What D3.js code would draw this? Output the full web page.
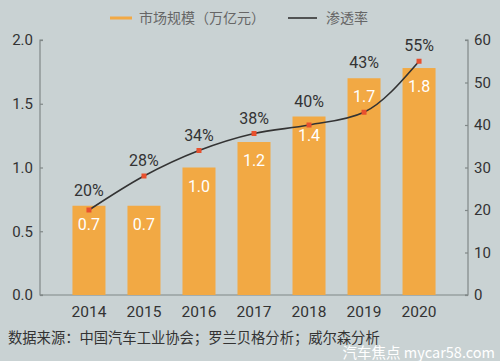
<!DOCTYPE html>
<html>
<head>
<meta charset="utf-8">
<script src="https://cdn.jsdelivr.net/npm/d3@7"></script>
<style>
  body { margin: 0; background: #c9d2d3; }
  svg { display: block; font-family: "Noto Sans CJK SC", "Noto Sans", sans-serif; }
</style>
</head>
<body>
<div id="vis"></div>
<script>
  // chart data
  const years = ["2014", "2015", "2016", "2017", "2018", "2019", "2020"]
  const marketSize = [0.7, 0.7, 1.0, 1.2, 1.4, 1.7, 1.78]
  const marketLabels = ["0.7", "0.7", "1.0", "1.2", "1.4", "1.7", "1.8"]
  const penetration = [20, 28, 34, 38, 40, 43, 55]
  const leftTicks = [0, 0.5, 1.0, 1.5, 2.0]
  const rightTicks = [0, 10, 20, 30, 40, 50, 60]

  const width = 500, height = 361
  const margin = { left: 40, right: 32, top: 40, bottom: 66 }
  const x0 = margin.left, x1 = width - margin.right
  const yTop = margin.top, yBottom = height - margin.bottom

  const svg = d3.select("#vis").append("svg")
    .attr("width", width)
    .attr("height", height)

  svg.append("rect")
    .attr("width", width).attr("height", height)
    .attr("fill", "#c9d2d3")

  const x = d3.scaleBand()
    .domain(years)
    .range([x0, x1])
    .paddingInner(0.4)
    .paddingOuter(0.59)

  const yLeft = d3.scaleLinear().domain([0, 2]).range([yBottom, yTop])
  const yRight = d3.scaleLinear().domain([0, 60]).range([yBottom, yTop])

  // axes
  const leftAxis = d3.axisRight(yLeft).tickValues(leftTicks).tickSize(3).tickFormat(d3.format(".1f"))
  const gl = svg.append("g").attr("transform", `translate(${x0},0)`).call(leftAxis)
  gl.select(".domain").attr("d", `M3,${yTop}H0V${yBottom}H3`)
  gl.selectAll("text").attr("x", -7).attr("text-anchor", "end")

  const rightAxis = d3.axisLeft(yRight).tickValues(rightTicks).tickSize(3)
  const gr = svg.append("g").attr("transform", `translate(${x1},0)`).call(rightAxis)
  gr.select(".domain").attr("d", `M-3,${yTop}H0V${yBottom}H-3`)
  gr.selectAll("text").attr("x", 6).attr("text-anchor", "start")

  svg.selectAll(".domain, .tick line").attr("stroke", "#808888").attr("stroke-width", 1.2)
  svg.selectAll(".tick text")
    .attr("fill", "#333")
    .style("font-size", "15px")
    .style("font-family", "Roboto, sans-serif")

  // bottom baseline
  svg.append("line")
    .attr("x1", x0).attr("x2", x1)
    .attr("y1", yBottom).attr("y2", yBottom)
    .attr("stroke", "#808888").attr("stroke-width", 1.2)

  // x labels
  svg.append("g").selectAll("text")
    .data(years)
    .enter().append("text")
    .attr("x", d => x(d) + x.bandwidth() / 2)
    .attr("y", yBottom + 22)
    .attr("text-anchor", "middle")
    .attr("fill", "#333")
    .style("font-size", "15.5px")
    .style("font-family", "Roboto, sans-serif")
    .text(d => d)

  // bars
  svg.append("g").selectAll("rect")
    .data(marketSize)
    .enter().append("rect")
    .attr("x", (d, i) => x(years[i]))
    .attr("y", d => yLeft(d))
    .attr("width", x.bandwidth())
    .attr("height", d => yBottom - yLeft(d))
    .attr("fill", "#f2a944")

  svg.append("g").selectAll("text")
    .data(marketSize)
    .enter().append("text")
    .attr("x", (d, i) => x(years[i]) + x.bandwidth() / 2)
    .attr("y", d => yLeft(d) + 24)
    .attr("text-anchor", "middle")
    .attr("fill", "#fff")
    .style("font-size", "16px")
    .style("font-family", "Roboto, sans-serif")
    .text((d, i) => marketLabels[i])

  // line
  const line = d3.line()
    .x((d, i) => x(years[i]) + x.bandwidth() / 2)
    .y(d => yRight(d))
    .curve(d3.curveMonotoneX)

  svg.append("path")
    .datum(penetration)
    .attr("d", line)
    .attr("fill", "none")
    .attr("stroke", "#333")
    .attr("stroke-width", 1.6)

  svg.append("g").selectAll("rect")
    .data(penetration)
    .enter().append("rect")
    .attr("x", (d, i) => x(years[i]) + x.bandwidth() / 2 - 2.5)
    .attr("y", d => yRight(d) - 2.5)
    .attr("width", 5).attr("height", 5)
    .attr("fill", "#e8502e")

  svg.append("g").selectAll("text")
    .data(penetration)
    .enter().append("text")
    .attr("x", (d, i) => x(years[i]) + x.bandwidth() / 2)
    .attr("y", (d, i) => Math.min(yRight(d), yLeft(marketSize[i])) - 10)
    .attr("text-anchor", "middle")
    .attr("fill", "#333")
    .style("font-size", "16px")
    .style("font-family", "Roboto, sans-serif")
    .text(d => d + "%")

  // legend
  const legend = svg.append("g").attr("transform", "translate(0,18)")
  legend.append("line")
    .attr("x1", 110).attr("x2", 132).attr("y1", 0).attr("y2", 0)
    .attr("stroke", "#f2a944").attr("stroke-width", 3)
  legend.append("text")
    .attr("x", 139).attr("y", 5)
    .attr("fill", "#666")
    .style("font-size", "14px")
    .text("市场规模（万亿元）")
  legend.append("line")
    .attr("x1", 288).attr("x2", 317).attr("y1", 0).attr("y2", 0)
    .attr("stroke", "#333").attr("stroke-width", 1.6)
  legend.append("text")
    .attr("x", 326).attr("y", 5)
    .attr("fill", "#666")
    .style("font-size", "14px")
    .text("渗透率")

  // source + watermark
  svg.append("text")
    .attr("x", 8).attr("y", 343)
    .attr("fill", "#333")
    .style("font-size", "14.3px")
    .text("数据来源：中国汽车工业协会；罗兰贝格分析；威尔森分析")

  svg.append("text")
    .attr("x", 495).attr("y", 358)
    .attr("text-anchor", "end")
    .attr("fill", "#fff")
    .style("font-size", "14.5px")
    .text("汽车焦点  mycar58.com")
</script>
</body>
</html>
